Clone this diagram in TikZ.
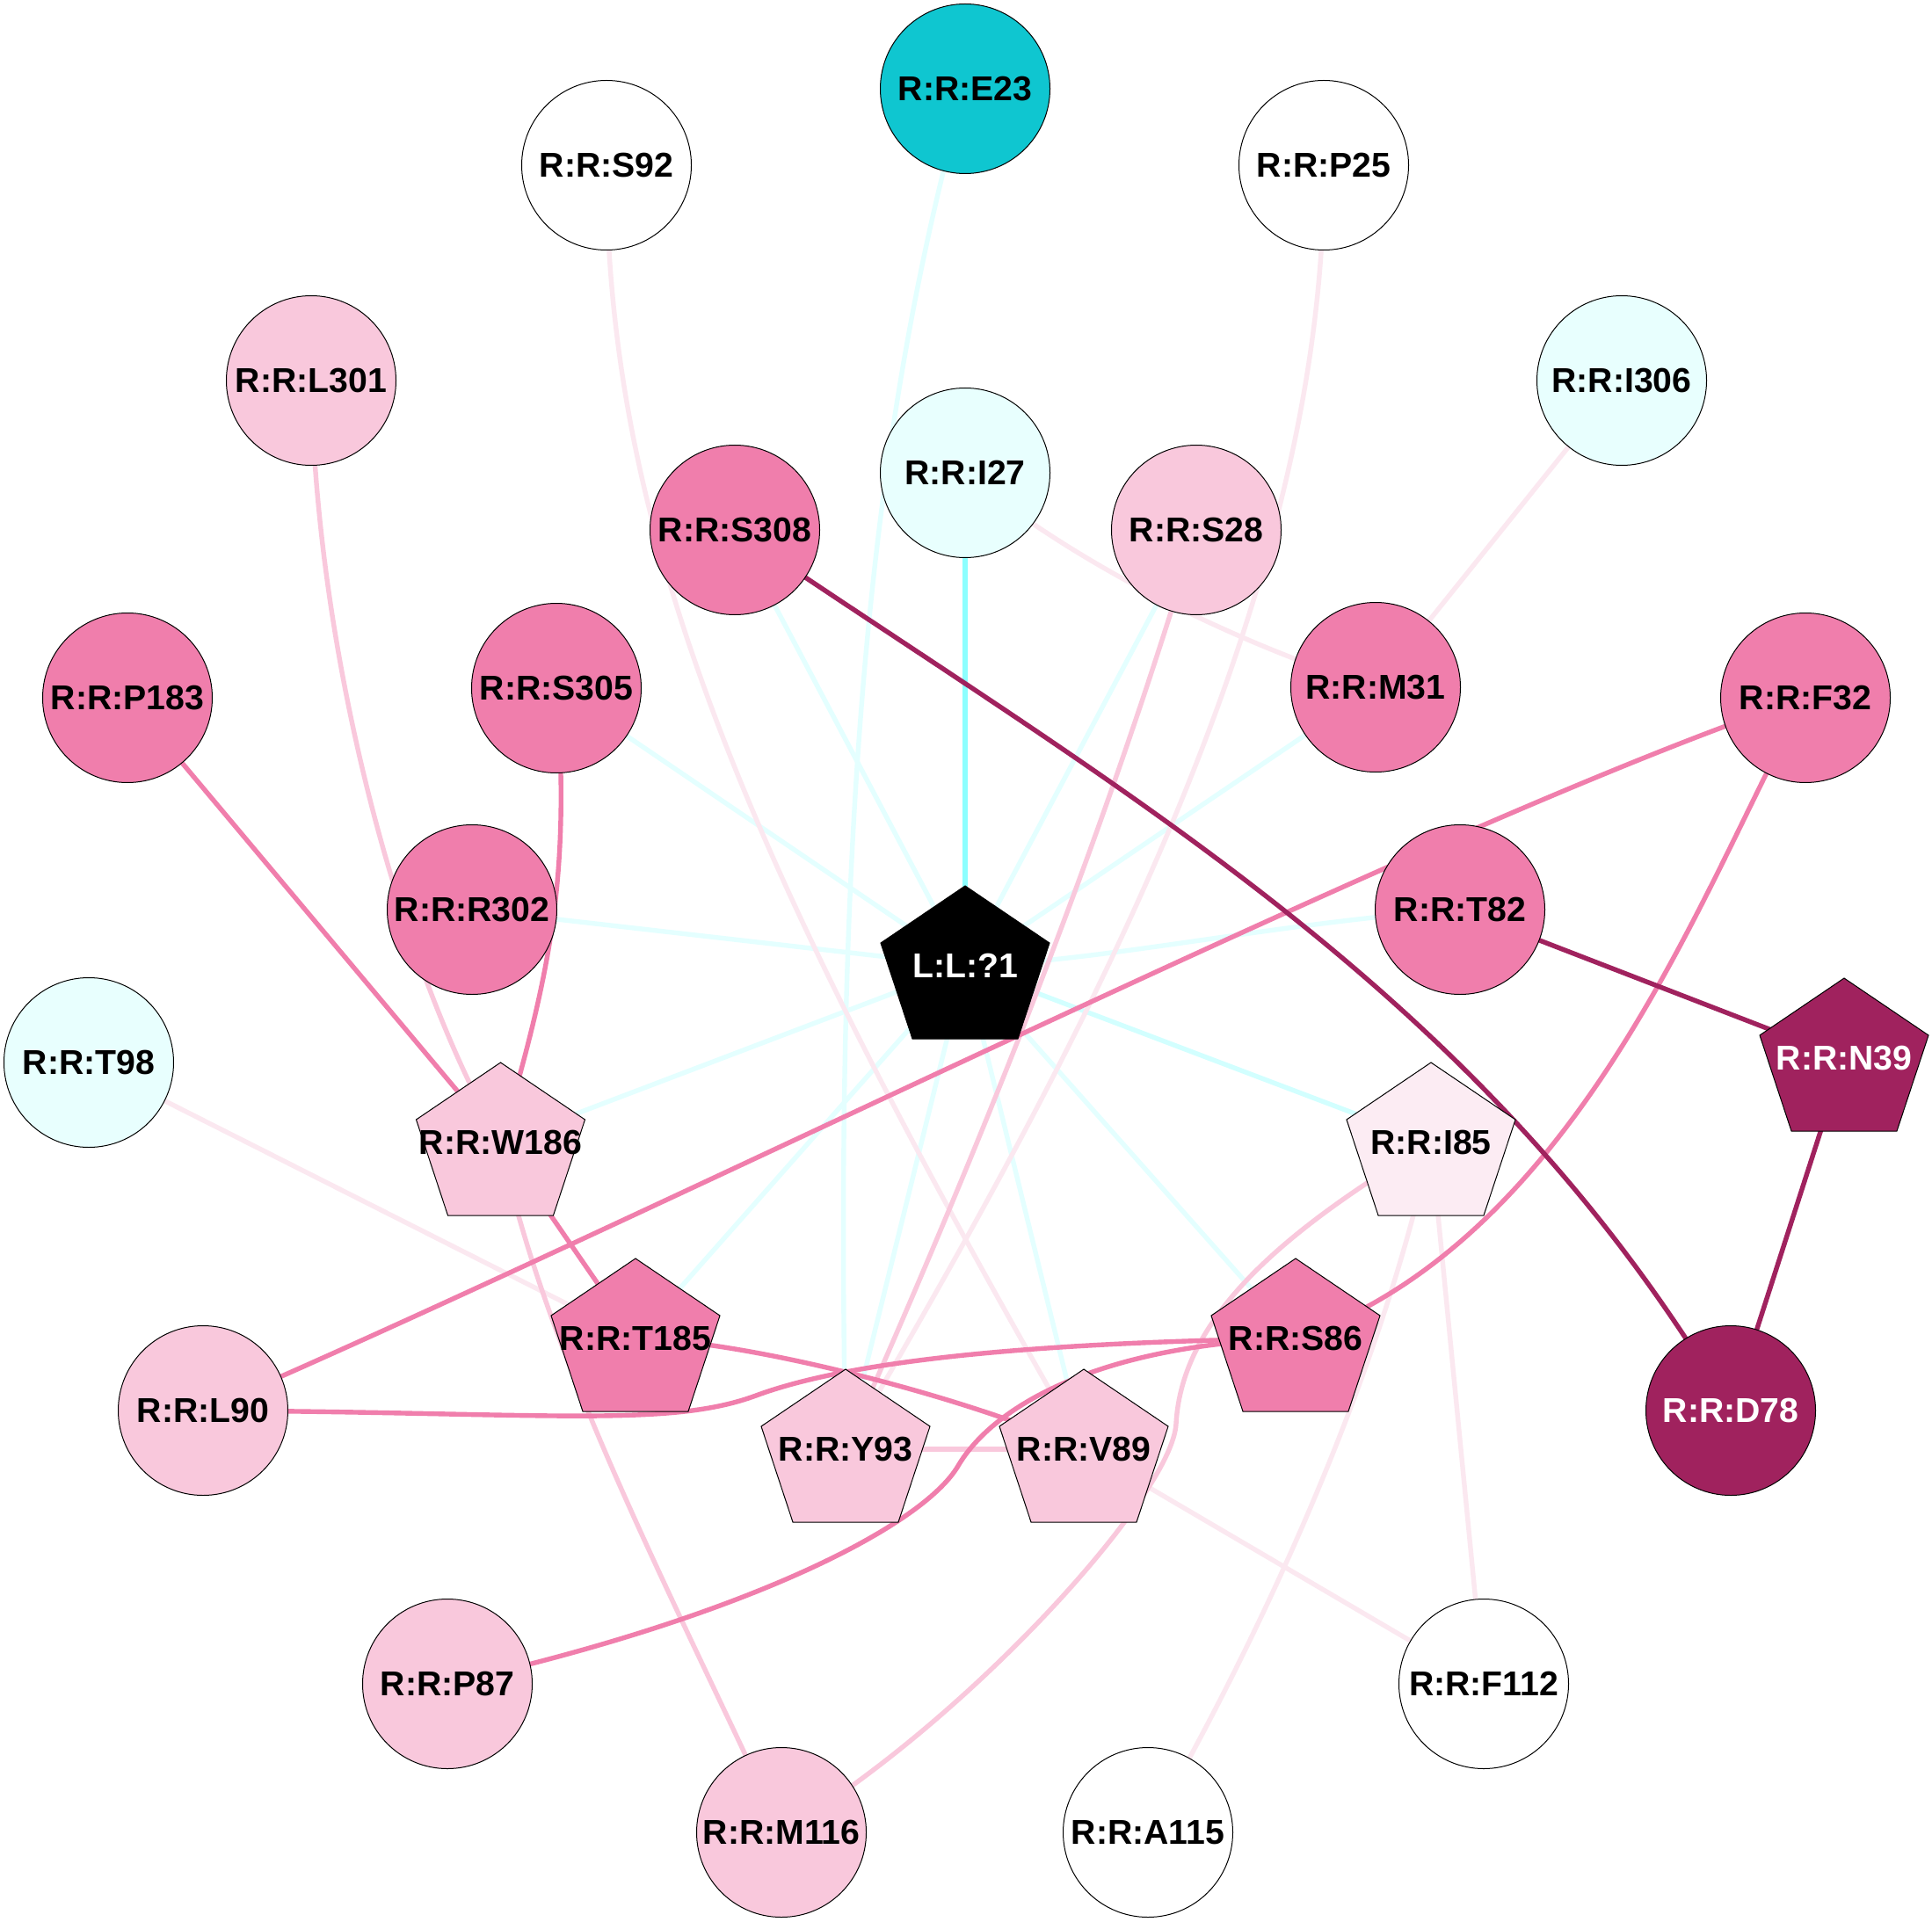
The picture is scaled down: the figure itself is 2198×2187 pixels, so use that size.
\documentclass[tikz,border=0pt]{standalone}
\usepackage{fontspec}
\setmainfont{Liberation Sans}
\usetikzlibrary{backgrounds}
\definecolor{pkM}{HTML}{F07EAC}
\definecolor{pkL}{HTML}{F9C8DC}
\definecolor{pkV}{HTML}{FCECF3}
\definecolor{pkP}{HTML}{FBE8F0}
\definecolor{dkM}{HTML}{A0225E}
\definecolor{cyN}{HTML}{0FC6D0}
\definecolor{cyL}{HTML}{E8FFFE}
\definecolor{cyE}{HTML}{E4FFFF}
\definecolor{cyF}{HTML}{D2FFFF}
\definecolor{cyB}{HTML}{8CFFFF}
\newcommand\pentres[5]{%
  \begin{scope}[shift={(#2)}]
    \filldraw[pentline, fill=#3] (0,-87) -- (96,-22) -- (60,87) -- (-60,87) -- (-96,-22) -- cycle;
  \end{scope}
  \node[lbl, text=#4] (#1) at (#2) {#5};
}
\begin{document}
\begin{tikzpicture}[x=0.5pt,y=-0.5pt,
  lbl/.style={inner sep=0pt, yshift=-2pt, font=\bfseries\fontsize{19.6}{22}\selectfont},
  res/.style={circle, draw=black, line width=0.5pt, minimum size=96.5pt, inner sep=0pt, font=\bfseries\fontsize{19.6}{22}\selectfont},
  pentline/.style={draw=black, line width=0.5pt},
  edge/.style={line width=2.7pt},
  eC/.style={edge, draw=cyE},
  eF/.style={edge, draw=cyF},
  eB/.style={edge, draw=cyB},
  eP/.style={edge, draw=pkP},
  eL/.style={edge, draw=pkL},
  eM/.style={edge, draw=pkM},
  eD/.style={edge, draw=dkM}]
\useasboundingbox (0,0) rectangle (2198,2187);
% circle residues
\node[res, fill=cyN] (E23) at (1098,101) {R:R:E23};
\node[res, fill=white] (S92) at (690,188) {R:R:S92};
\node[res, fill=white] (P25) at (1506,188) {R:R:P25};
\node[res, fill=pkL] (L301) at (354,433) {R:R:L301};
\node[res, fill=cyL] (I306) at (1845,433) {R:R:I306};
\node[res, fill=cyL] (I27) at (1098,538) {R:R:I27};
\node[res, fill=pkM] (S308) at (836,603) {R:R:S308};
\node[res, fill=pkL] (S28) at (1361,603) {R:R:S28};
\node[res, fill=pkM] (P183) at (145,794) {R:R:P183};
\node[res, fill=pkM] (S305) at (633,783) {R:R:S305};
\node[res, fill=pkM] (M31) at (1565,782) {R:R:M31};
\node[res, fill=pkM] (F32) at (2054,794) {R:R:F32};
\node[res, fill=pkM] (R302) at (537,1035) {R:R:R302};
\node[res, fill=pkM] (T82) at (1661,1035) {R:R:T82};
\node[res, fill=cyL] (T98) at (101,1209) {R:R:T98};
\node[res, fill=pkL] (L90) at (231,1605) {R:R:L90};
\node[res, fill=dkM, text=white] (D78) at (1969,1605) {R:R:D78};
\node[res, fill=pkL] (P87) at (509,1916) {R:R:P87};
\node[res, fill=white] (F112) at (1688,1916) {R:R:F112};
\node[res, fill=pkL] (M116) at (889,2085) {R:R:M116};
\node[res, fill=white] (A115) at (1306,2085) {R:R:A115};
% pentagon residues
\pentres{L1}{1098,1095}{black}{white}{L:L:?1}
\pentres{N39}{2098,1200}{dkM}{white}{R:R:N39}
\pentres{W186}{569.5,1296}{pkL}{black}{R:R:W186}
\pentres{I85}{1628,1296}{pkV}{black}{R:R:I85}
\pentres{T185}{723,1519}{pkM}{black}{R:R:T185}
\pentres{S86}{1474,1519}{pkM}{black}{R:R:S86}
\pentres{Y93}{962,1645}{pkL}{black}{R:R:Y93}
\pentres{V89}{1233,1645}{pkL}{black}{R:R:V89}
\begin{scope}[on background layer]
\fill[white] (0,0) rectangle (2198,2187);
% pale cyan
\draw[eC] (E23.center) .. controls (980,520) and (950,1000) .. (Y93.center);
\draw[eC] (S308.center) -- (L1.center);
\draw[eC] (S28.center) -- (L1.center);
\draw[eC] (S305.center) -- (L1.center);
\draw[eC] (M31.center) -- (L1.center);
\draw[eC] (R302.center) -- (L1.center);
\draw[eC] (T82.center) .. controls (1450,1050) and (1250,1095) .. (L1.center);
\draw[eC] (L1.center) -- (W186.center);
\draw[eC] (L1.center) -- (T185.center);
\draw[eC] (L1.center) -- (Y93.center);
\draw[eC] (L1.center) -- (V89.center);
\draw[eC] (L1.center) -- (S86.center);
\draw[eF] (L1.center) -- (I85.center);
\draw[eB] (I27.center) -- (L1.center);
% pale pink
\draw[eP] (S92.center) .. controls (690,620) and (860,1000) .. (V89.center);
\draw[eP] (P25.center) .. controls (1510,700) and (1200,1240) .. (Y93.center);
\draw[eP] (I306.center) -- (M31.center);
\draw[eP] (I27.center) .. controls (1220,640) and (1400,730) .. (M31.center);
\draw[eP] (T98.center) -- (T185.center);
\draw[eP] (V89.center) -- (F112.center);
\draw[eP] (I85.center) .. controls (1575,1546) and (1450,1835) .. (A115.center);
\draw[eP] (I85.center) -- (F112.center);
% light pink
\draw[eL] (L301.center) .. controls (360,750) and (455,1100) .. (W186.center);
\draw[eL] (S28.center) .. controls (1256,953) and (1120,1294) .. (Y93.center);
\draw[eL] (W186.center) .. controls (620,1546) and (775,1835) .. (M116.center);
\draw[eL] (Y93.center) -- (V89.center);
\draw[eL] (I85.center) .. controls (1478,1391) and (1345,1490) .. (1338,1620) .. controls (1334,1700) and (1100,1960) .. (M116.center);
% medium pink
\draw[eM] (P183.center) -- (W186.center);
\draw[eM] (S305.center) .. controls (650,1000) and (625,1110) .. (W186.center);
\draw[eM] (F32.center) .. controls (1654,926) and (731,1390) .. (L90.center);
\draw[eM] (F32.center) .. controls (1940,1000) and (1800,1410) .. (S86.center);
\draw[eM] (W186.center) -- (T185.center);
\draw[eM] (T185.center) .. controls (850,1525) and (1100,1590) .. (V89.center);
\draw[eM] (L90.center) .. controls (620,1607) and (760,1625) .. (860,1588) .. controls (960,1551) and (1150,1528) .. (S86.center);
\draw[eM] (S86.center) .. controls (1250,1530) and (1130,1600) .. (1090,1668) .. controls (1050,1736) and (850,1840) .. (P87.center);
% dark
\draw[eD] (S308.center) .. controls (1277,903) and (1687,1126) .. (D78.center);
\draw[eD] (T82.center) -- (N39.center);
\draw[eD] (N39.center) -- (D78.center);
\end{scope}
\end{tikzpicture}
\end{document}
